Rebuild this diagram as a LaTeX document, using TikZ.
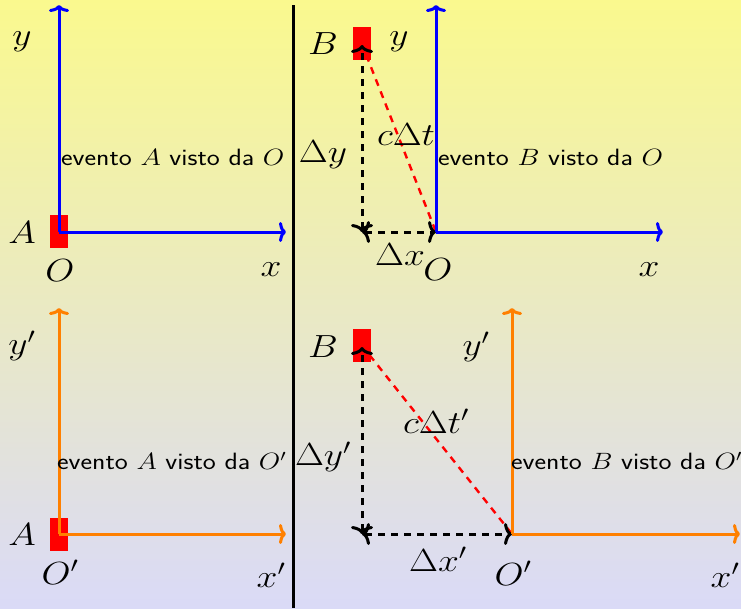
\RequirePackage{fix-cm}
\documentclass[tikz,border=0pt]{standalone}
\usepackage{graphicx}
\usetikzlibrary{arrows.meta}
\definecolor{bgtop}{RGB}{250,249,142}
\definecolor{bgbot}{RGB}{218,218,247}
\newcommand\wx[1]{\scalebox{1.17}[1]{#1}}
\tikzset{
  tipA/.tip={Computer Modern Rightarrow[length=7pt,width=20pt]},
  tipB/.tip={Computer Modern Rightarrow[length=8pt,width=22pt]},
  lab/.style={inner sep=0pt, font=\fontsize{32}{36}\selectfont},
  txt/.style={inner sep=0pt, anchor=west, font=\sffamily\fontsize{23.6}{27}\selectfont},
  ax/.style={line width=3pt, -tipA},
  blueax/.style={ax, blue},
  orax/.style={ax, orange},
  dimarrow/.style={line width=3pt, black, dash pattern=on 7pt off 6pt, tipB-tipB},
  ray/.style={line width=2.4pt, red, dash pattern=on 7pt off 6pt},
  event/.style={fill=red, draw=none, minimum width=18pt, minimum height=33pt, inner sep=0pt}
}
\begin{document}
\begin{tikzpicture}[x=1pt,y=-1pt]
\useasboundingbox (0,0) rectangle (741,608);
\shade[top color=bgtop, bottom color=bgbot] (0,0) rectangle (741,608);

% divider
\coordinate (d1) at (293,5);
\coordinate (d2) at (293,608);
\draw[line width=3pt] (d1) -- (d2);

% ---------- top left ----------
\node[event] (rA1) at (59,231.5) {};
\coordinate (O1) at (59,232);
\coordinate (Y1) at (59,5);
\coordinate (X1) at (286,232);
\draw[blueax] (O1) -- (Y1);
\draw[blueax] (O1) -- (X1);
\node[lab] (ly1) at (22,42) {\wx{$y$}};
\node[lab] (lA1) at (22,233) {\wx{$A$}};
\node[lab] (lO1) at (60,271) {\wx{$O$}};
\node[lab] (lx1) at (271,270) {\wx{$x$}};
\node[txt] (t1) at (61,157) {\wx{evento $A$ visto da $O$}};

% ---------- top right ----------
\node[event] (rB2) at (361.5,43) {};
\coordinate (B2) at (361.5,43);
\coordinate (O2) at (436,232);
\coordinate (Y2) at (436,5);
\coordinate (X2) at (663,232);
\coordinate (C2) at (362,232);
\coordinate (T2) at (362,45);
\draw[ray] (B2) -- (O2);
\draw[dimarrow] (C2) -- (T2);
\draw[dimarrow] (C2) -- (O2);
\draw[blueax] (O2) -- (Y2);
\draw[blueax] (O2) -- (X2);
\node[lab] (lB2) at (323,44) {\wx{$B$}};
\node[lab] (ly2) at (399,42) {\wx{$y$}};
\node[lab] (ldy2) at (323,155) {\wx{$\Delta y$}};
\node[lab] (lct2) at (406,135) {\wx{$c\Delta t$}};
\node[lab] (ldx2) at (400,255) {\wx{$\Delta x$}};
\node[lab] (lO2) at (438,270) {\wx{$O$}};
\node[lab] (lx2) at (649,270) {\wx{$x$}};
\node[txt] (t2) at (438,157) {\wx{evento $B$ visto da $O$}};

% ---------- bottom left ----------
\node[event] (rA3) at (59,534.5) {};
\coordinate (O3) at (59,534);
\coordinate (Y3) at (59,308);
\coordinate (X3) at (286,534);
\draw[orax] (O3) -- (Y3);
\draw[orax] (O3) -- (X3);
\node[lab] (ly3) at (22,346) {\wx{$y'$}};
\node[lab] (lA3) at (22,535) {\wx{$A$}};
\node[lab] (lO3) at (60,572) {\wx{$O'$}};
\node[lab] (lx3) at (271,575) {\wx{$x'$}};
\node[txt] (t3) at (57,461) {\wx{evento $A$ visto da $O'$}};

% ---------- bottom right ----------
\node[event] (rB4) at (361.5,345) {};
\coordinate (B4) at (361.5,345);
\coordinate (O4) at (512,534);
\coordinate (Y4) at (512,308);
\coordinate (X4) at (740,534);
\coordinate (C4) at (362,534);
\coordinate (T4) at (362,347);
\draw[ray] (B4) -- (O4);
\draw[dimarrow] (C4) -- (T4);
\draw[dimarrow] (C4) -- (O4);
\draw[orax] (O4) -- (Y4);
\draw[orax] (O4) -- (X4);
\node[lab] (lB4) at (323,347) {\wx{$B$}};
\node[lab] (ly4) at (476,347) {\wx{$y'$}};
\node[lab] (lct4) at (436,421) {\wx{$c\Delta t'$}};
\node[lab] (ldy4) at (323,457) {\wx{$\Delta y'$}};
\node[lab] (ldx4) at (438,559) {\wx{$\Delta x'$}};
\node[lab] (lO4) at (513,573) {\wx{$O'$}};
\node[lab] (lx4) at (725,575) {\wx{$x'$}};
\node[txt] (t4) at (511,461) {\wx{evento $B$ visto da $O'$}};
\end{tikzpicture}
\end{document}
